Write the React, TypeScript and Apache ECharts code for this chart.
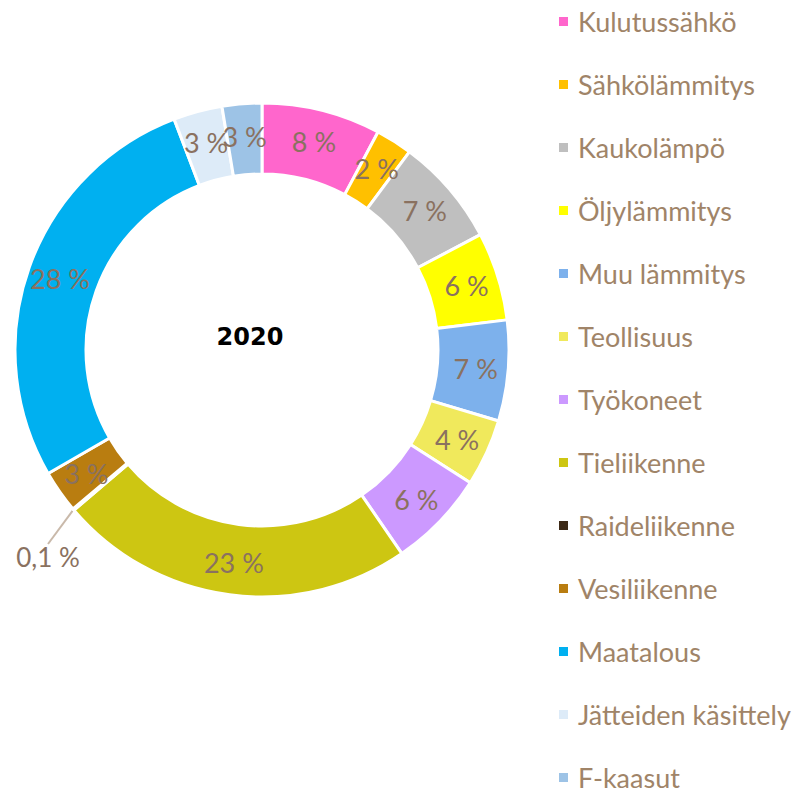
import React, { useEffect, useRef } from "react";
import * as echarts from "echarts";

const categories = [
  "Kulutussähkö",
  "Sähkölämmitys",
  "Kaukolämpö",
  "Öljylämmitys",
  "Muu lämmitys",
  "Teollisuus",
  "Työkoneet",
  "Tieliikenne",
  "Raideliikenne",
  "Vesiliikenne",
  "Maatalous",
  "Jätteiden käsittely",
  "F-kaasut",
];
const values = [7.8, 2.4, 7.1, 5.8, 6.6, 4.4, 6.4, 23.4, 0.1, 2.8, 27.6, 3.2, 2.6];
const colors = [
  "#FF66CC",
  "#FFC000",
  "#BFBFBF",
  "#FFFF00",
  "#7DB1EC",
  "#F0E95C",
  "#CC99FF",
  "#CDC612",
  "#3D2A17",
  "#B97D10",
  "#00B0F0",
  "#DDEBF8",
  "#9DC3E6",
];
const centerTitle = "2020";

const LABEL_COLOR = "#8A7160";
const LEGEND_COLOR = "#A08468";
const FONT = "Lato, 'Open Sans', sans-serif";

export default function App() {
  const ref = useRef<HTMLDivElement>(null);
  useEffect(() => {
    if (!ref.current) return;
    const chart = echarts.init(ref.current, undefined, { renderer: "svg" });
    const data = categories.map((name, i) => {
      const v = values[i];
      const item: any = { name, value: v, itemStyle: { color: colors[i] } };
      if (v < 1) {
        item.label = {
          show: true,
          position: "outside",
          formatter: () => String(v).replace(".", ",") + " %",
          color: LABEL_COLOR,
          fontSize: 26,
          fontFamily: FONT,
        };
        item.labelLine = {
          show: true,
          length: 30,
          length2: 0,
          lineStyle: { color: "#C9B9AA", width: 2 },
        };
      }
      return item;
    });
    chart.setOption({
      animation: false,
      backgroundColor: "#ffffff",
      title: {
        text: centerTitle,
        left: 250,
        top: 337,
        textAlign: "center",
        textVerticalAlign: "middle",
        padding: 0,
        textStyle: {
          fontSize: 24,
          fontWeight: "bold",
          color: "#000000",
          fontFamily: "'DejaVu Sans', sans-serif",
        },
      },
      legend: {
        orient: "vertical",
        left: 557,
        top: 8,
        width: 250,
        height: 790,
        padding: 0,
        icon: "rect",
        itemWidth: 11,
        itemHeight: 11,
        itemGap: 36,
        data: categories,
        textStyle: {
          color: LEGEND_COLOR,
          fontSize: 27,
          fontFamily: FONT,
          padding: [0, 0, 0, 4],
        },
      },
      series: [
        {
          type: "pie",
          center: [262, 350],
          radius: [176, 247],
          startAngle: 90,
          clockwise: true,
          avoidLabelOverlap: false,
          itemStyle: { borderColor: "#ffffff", borderWidth: 3 },
          label: {
            show: true,
            position: "inside",
            formatter: (p: any) => Math.round(p.value) + " %",
            color: LABEL_COLOR,
            fontSize: 27,
            fontFamily: FONT,
          },
          labelLine: { show: false },
          labelLayout: (p: any) =>
            p.dataIndex === 8
              ? { x: 48, y: 557, align: "center", verticalAlign: "middle" }
              : {},
          emphasis: { disabled: true },
          data,
        },
      ],
    });
    return () => chart.dispose();
  }, []);
  return (
    <div
      ref={ref}
      style={{ position: "fixed", left: 0, top: 0, width: 807, height: 793 }}
    />
  );
}
